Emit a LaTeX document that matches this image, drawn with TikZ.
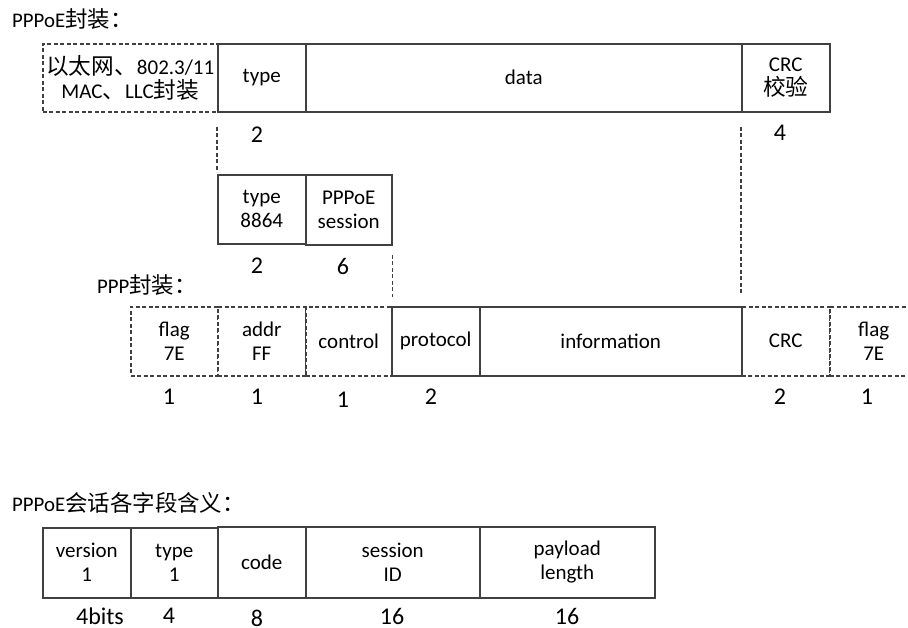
\documentclass[tikz,border=0pt]{standalone}
\usepackage{fontspec}
\setmainfont{Carlito}
\newfontfamily\cjk[Scale=1.08]{Noto Sans CJK SC}
\begin{document}
\begin{tikzpicture}[x=1pt,y=-1pt,
  font=\fontsize{21}{24}\selectfont,
  cell/.style={draw=black!75, line width=1.5pt, fill=white, anchor=north west,
    inner sep=0pt, align=center},
  dcell/.style={cell, dash pattern=on 4pt off 2.5pt},
  num/.style={font=\fontsize{24}{28}\selectfont, inner sep=0pt},
  title/.style={anchor=west, inner sep=0pt, font=\fontsize{20.8}{24}\selectfont},
  guide/.style={draw=black!75, line width=1.5pt, dash pattern=on 4pt off 2.5pt}]
\useasboundingbox (0,0) rectangle (908,627);
\clip (0,0) rectangle (908,627);

% ---------- PPPoE encapsulation ----------
\node[title] (ttl1) at (12,19) {PPPoE{\cjk 封装：}};
\node[dcell, minimum width=175pt, minimum height=68pt] (mac) at (42,43)
  {{\cjk 以太网、}802.3/11\\MAC{\cjk 、}LLC{\cjk 封装}};
\node[cell, minimum width=88pt, minimum height=68pt] (etype) at (217,43) {type};
\node[cell, minimum width=436pt, minimum height=68pt] (data) at (305,43) {data};
\node[cell, minimum width=88pt, minimum height=68pt] (ecrc) at (741,43) {CRC\\{\cjk 校验}};
\node[num] (n1) at (257,135) {2};
\node[num] (n2) at (780,133) {4};

\node[cell, minimum width=88pt, minimum height=69pt] (t8864) at (217,174) {type\\8864};
\node[cell, minimum width=86pt, minimum height=70pt] (sess) at (305,174) {PPPoE\\session};
\node[num] (n3) at (257,266) {2};
\node[num] (n4) at (343,266) {6};

% ---------- PPP encapsulation ----------
\node[title] (ttl2) at (97,285) {PPP{\cjk 封装：}};
\node[dcell, minimum width=87pt, minimum height=69pt] (flag1) at (130,306) {flag\\7E};
\node[dcell, minimum width=88pt, minimum height=69pt] (addr) at (217,306) {addr\\FF};
\node[dcell, minimum width=86pt, minimum height=69pt] (ctrl) at (305,306) {control};
\node[dcell, minimum width=88pt, minimum height=69pt] (pcrc) at (741,306) {CRC};
\node[dcell, minimum width=88pt, minimum height=69pt] (flag2) at (829,306) {flag\\7E};
\node[cell, minimum width=88pt, minimum height=69pt] (proto) at (391,306) {\raisebox{2pt}{protocol}};
\node[cell, minimum width=262pt, minimum height=69pt] (info) at (479,306) {information};
\node[num] (m1) at (169,397) {1};
\node[num] (m2) at (257,397) {1};
\node[num] (m3) at (343,400) {1};
\node[num] (m4) at (431,397) {2};
\node[num] (m5) at (780,397) {2};
\node[num] (m6) at (867,397) {1};

% guide lines between the layers
\draw[guide] ([yshift=-14pt]etype.south west) -- ([yshift=2pt]t8864.north west);
\draw[guide] ([yshift=-14pt]ecrc.south west) -- ([yshift=11pt]pcrc.north west);
\draw[guide] ([yshift=-9pt]sess.south east) -- ([yshift=9pt]sess.south east |- proto.north);

% ---------- PPPoE session header ----------
\node[title] (ttl3) at (12,503) {PPPoE{\cjk 会话各字段含义：}};
\node[cell, minimum width=88pt, minimum height=70pt] (ver) at (42,527) {version\\1};
\node[cell, minimum width=87pt, minimum height=70pt] (htype) at (130,527) {type\\1};
\node[cell, minimum width=88pt, minimum height=71pt] (code) at (217,526) {code};
\node[cell, minimum width=174pt, minimum height=71pt] (sid) at (305,526) {session\\ID};
\node[cell, minimum width=175pt, minimum height=71pt] (plen) at (479,526) {payload\\length};
\node[num] (k1) at (100,616) {4bits};
\node[num] (k2) at (169,616) {4};
\node[num] (k3) at (257,618) {8};
\node[num] (k4) at (392,616) {16};
\node[num] (k5) at (567,616) {16};
\end{tikzpicture}
\end{document}
